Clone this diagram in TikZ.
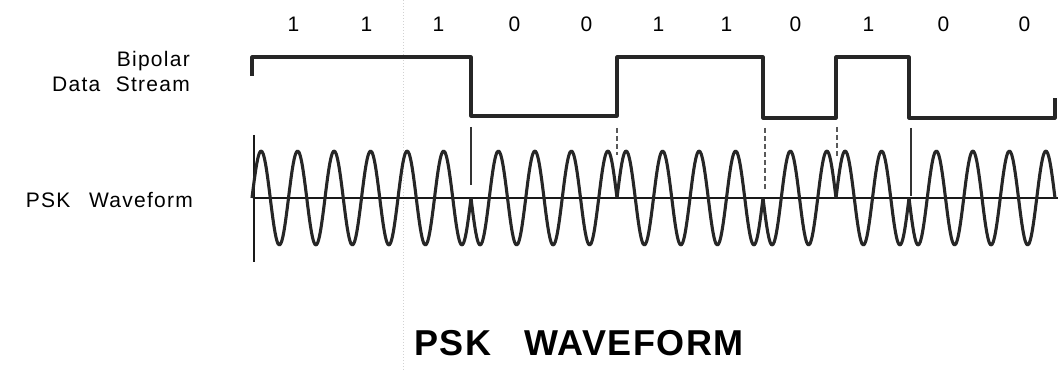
\documentclass[tikz,border=0pt]{standalone}
\usepackage{fontspec}
\setmainfont{Liberation Sans}
\newfontfamily\lblfont[LetterSpace=6]{Liberation Sans}
\newfontfamily\titlefont[LetterSpace=4]{Liberation Sans}
\begin{document}
\begin{tikzpicture}[x=1pt,y=-1pt,line join=round,
  sig/.style={line width=3.1pt,black!85},
  axis/.style={line width=2.4pt,black!90},
  lbl/.style={font=\lblfont\fontsize{21}{24}\selectfont,inner sep=0pt,anchor=east},
  bitlbl/.style={font=\lblfont\fontsize{21}{24}\selectfont,inner sep=0pt},
  solidtick/.style={line width=2.2pt,black!80},
  dashtick/.style={line width=2.2pt,black!65,dash pattern=on 5pt off 3pt}]
\useasboundingbox (0,0) rectangle (1058,371);
% faint fold line of the scan
\draw[gray!35,dotted,line width=1pt] (403,0) -- (403,371);
% bit labels
\foreach \b/\dx [count=\i from 0] in {1/5,1/5,1/4,0/7,0/6,1/5,1/0,0/-4,1/-4,0/-2,0/6} {
  \pgfmathsetmacro\xc{252+73*\i+36.5+\dx}
  \node[bitlbl] (bit\i) at (\xc,24) {\b};
}
% labels
\node[lbl] (bip) at (190,61) {Bipolar};
\node[lbl] (dst) at (190,84) {Data\hspace{0.4em} Stream};
\node[lbl] (pskw) at (193,200) {PSK\hspace{0.55em} Waveform};
\node[inner sep=0pt,font=\titlefont\bfseries\fontsize{36}{40}\selectfont] (title) at (579,343) {PSK\hspace{0.6em} WAVEFORM};
% data stream
\draw[sig] (252,76) -- (252,57) -- (471,57) -- (471,116) -- (617,116) -- (617,57)
  -- (763,57) -- (763,118) -- (836,118) -- (836,57) -- (909,57) -- (909,118)
  -- (1055,118) -- (1055,98);
% transition ticks
\draw[solidtick] (471,127) -- (471,185);
\draw[dashtick] (617,128) -- (617,155);
\draw[dashtick] (765,128) -- (765,190);
\draw[dashtick] (837,127) -- (837,157);
\draw[solidtick] (911,128) -- (911,196);
% axes
\draw[axis] (254,135) -- (254,262);
\draw[axis] (254,198) -- (1058,198);
% PSK waveform
\pgfmathsetmacro\kk{720/73}
\foreach \s [count=\i from 0] in {1,1,1,-1,-1,1,1,-1,1,-1,-1} {
  \pgfmathsetmacro\xa{252+73*\i}
  \pgfmathsetmacro\xb{\xa+73}
  \draw[sig] plot[domain=\xa:\xb,samples=60,smooth] (\x,{198-47*\s*sin(\kk*(\x-\xa))});
}
\end{tikzpicture}
\end{document}
